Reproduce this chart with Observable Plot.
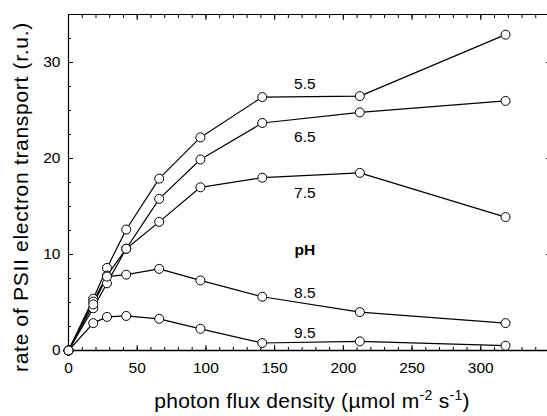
<!DOCTYPE html>
<html><head><meta charset="utf-8">
<script src="https://cdn.jsdelivr.net/npm/d3@7"></script>
<script src="https://cdn.jsdelivr.net/npm/@observablehq/plot@0.6"></script>
<style>body{margin:0;background:#fff}</style>
</head><body><div id="chart"></div>
<script>
// photon flux density (µmol m-2 s-1)
const flux = [0, 18, 28, 42, 66, 96, 141, 212, 318];
// rate of PSII electron transport (r.u.) per pH
const ph55 = [0, 5.4, 8.6, 12.6, 17.9, 22.2, 26.4, 26.5, 32.9];
const ph65 = [0, 5.1, 7.8, 10.6, 15.8, 19.9, 23.7, 24.8, 26.0];
const ph75 = [0, 4.4, 7.0, 10.6, 13.4, 17.0, 18.0, 18.5, 13.9];
const ph85 = [0, 4.8, 7.7, 7.9, 8.5, 7.3, 5.6, 4.0, 2.85];
const ph95 = [0, 2.85, 3.5, 3.6, 3.3, 2.26, 0.78, 0.95, 0.5];
const seriesNames = ["5.5", "6.5", "7.5", "8.5", "9.5"];
const seriesValues = [ph55, ph65, ph75, ph85, ph95];
// in-chart labels (data coordinates)
const labelX = 172;
const labelY = [27.8, 22.2, 16.4, 6.0, 1.8];
const legendTitle = "pH";
const legendTitleY = 10.5;
// axes
const xTickLabels = [0, 50, 100, 150, 200, 250, 300];
const yTickLabels = [0, 10, 20, 30];
const xMajorTicks = [0, 50, 100, 150, 200, 250, 300, 350];
const xMinorTicks = d3.range(0, 351, 10);
const yMajorTicks = [0, 10, 20, 30];
const yMinorTicks = d3.range(0, 35.1, 2.5);
const xTitle = "photon flux density (µmol m-2 s-1)";
const yTitle = "rate of PSII electron transport (r.u.)";

const rows = seriesNames.flatMap((name, i) =>
  flux.map((f, j) => ({pH: name, flux: f, rate: seriesValues[i][j]})));
const labels = seriesNames.map((name, i) => ({name, x: labelX, y: labelY[i]}));

const tickOpts = {tickFormat: () => "", label: null, strokeWidth: 1};

const svg = Plot.plot({
  width: 547, height: 416,
  marginLeft: 68, marginRight: -2, marginTop: 14, marginBottom: 66,
  style: {fontFamily: "'Liberation Sans', Arial, sans-serif", fontSize: "15.5px", background: "white", color: "black"},
  x: {domain: [0, 350]},
  y: {domain: [0, 35]},
  marks: [
    Plot.axisX({...tickOpts, ticks: xMinorTicks, anchor: "bottom", tickSize: -3}),
    Plot.axisX({...tickOpts, ticks: xMajorTicks, anchor: "bottom", tickSize: -5}),
    Plot.axisX({...tickOpts, ticks: xMinorTicks, anchor: "top", tickSize: -3}),
    Plot.axisX({...tickOpts, ticks: xMajorTicks, anchor: "top", tickSize: -5}),
    Plot.axisY({...tickOpts, ticks: yMinorTicks, anchor: "left", tickSize: -3}),
    Plot.axisY({...tickOpts, ticks: yMajorTicks, anchor: "left", tickSize: -5}),
    Plot.axisY({...tickOpts, ticks: yMinorTicks, anchor: "right", tickSize: -2}),
    Plot.axisY({...tickOpts, ticks: yMajorTicks, anchor: "right", tickSize: -4}),
    Plot.axisX({ticks: xTickLabels, anchor: "bottom", tickSize: 0, tickPadding: 11, label: null}),
    Plot.axisY({ticks: yTickLabels, anchor: "left", tickSize: 0, tickPadding: 8, label: null}),
    Plot.ruleY([0], {strokeWidth: 1.6}),
    Plot.ruleY([35], {strokeWidth: 1.2}),
    Plot.ruleX([0], {strokeWidth: 1.2}),
    Plot.line(rows, {x: "flux", y: "rate", z: "pH", stroke: "black", strokeWidth: 1.2}),
    Plot.dot(rows, {x: "flux", y: "rate", r: 4.5, fill: "white", stroke: "black", strokeWidth: 1}),
    Plot.text(labels, {x: "x", y: "y", text: "name", fontSize: 15.5}),
    Plot.text([legendTitle], {x: labelX, y: legendTitleY, fontWeight: "bold", fontSize: 15.5}),
    Plot.text([xTitle], {frameAnchor: "bottom", textAnchor: "middle", dx: 3, dy: 57, fontSize: 21}),
    Plot.text([yTitle], {frameAnchor: "left", textAnchor: "middle", rotate: -90, dx: -47, dy: 14.5, fontSize: 21})
  ]
});

const texts = d3.select(svg).selectAll("text");
// superscripts in the x-axis title
texts.filter(function() { return this.textContent === xTitle; })
  .attr("letter-spacing", "0.3px")
  .each(function() {
    const t = d3.select(this);
    t.text(null);
    t.append("tspan").text("photon flux density (µmol m");
    t.append("tspan").attr("dy", "-8px").attr("font-size", "14px").text("-2");
    t.append("tspan").attr("dy", "8px").text(" s");
    t.append("tspan").attr("dy", "-8px").attr("font-size", "14px").text("-1");
    t.append("tspan").attr("dy", "8px").text(")");
  });
texts.filter(function() { return this.textContent === yTitle; })
  .attr("letter-spacing", "0.7px");

document.getElementById("chart").append(svg);
</script>
</body></html>
